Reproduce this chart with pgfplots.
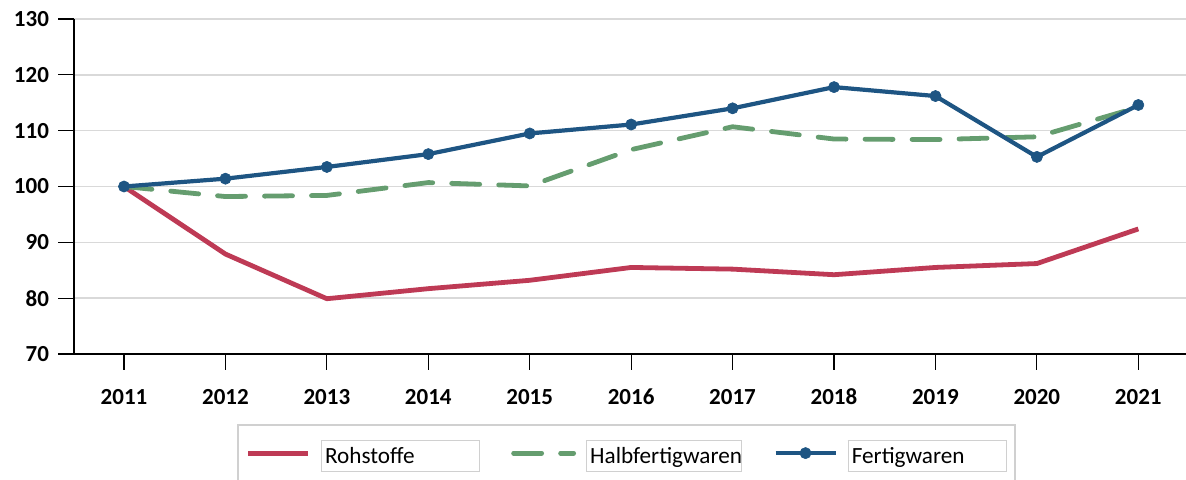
\documentclass[border=0pt]{standalone}
\usepackage{pgfplots}
\pgfplotsset{compat=1.18}
\usepackage{fontspec}
\setmainfont{Carlito}
\definecolor{cRed}{HTML}{BE3A55}
\definecolor{cGreen}{HTML}{659D6F}
\definecolor{cBlue}{HTML}{1E5583}
\definecolor{gridgray}{HTML}{D9D9D9}
\definecolor{legendgray}{HTML}{D0D0D0}
\setlength{\fboxsep}{0pt}
\setlength{\fboxrule}{0.6pt}
\newcommand\lbox[2]{\fcolorbox{legendgray}{white}{\makebox[#1][l]{\rule[-4pt]{0pt}{15pt}\hspace{1.5pt}#2}}}
\begin{document}
\begin{tikzpicture}
\path[use as bounding box] (0,0) rectangle (593pt,240pt);
\begin{axis}[
  at={(37pt,63pt)}, anchor=south west,
  scale only axis, width=556pt, height=167.5pt,
  xmin=2010.507, xmax=2021.47,
  ymin=70, ymax=130,
  xtick={2011,...,2021}, ytick={70,80,...,130},
  axis lines*=left,
  axis line style={black, line width=0.6pt},
  tick style={black, line width=0.6pt},
  tick align=outside, major tick length=8pt,
  ymajorgrids, major grid style={gridgray, line width=0.8pt},
  /pgf/number format/assume math mode=true,
  /pgf/number format/1000 sep={},
  ticklabel style={font=\fontsize{11.5}{13}\selectfont\bfseries},
  xticklabel style={yshift=-6pt},
  yticklabel style={xshift=-1pt},
  legend columns=3,
  legend style={at={(axis description cs:0.1466,-0.209)}, anchor=north west,
    draw=legendgray, line width=1pt, inner xsep=4pt, inner ysep=7.5pt,
    font=\fontsize{11.6}{14}\selectfont,
    nodes={inner sep=0pt},
    column sep=5pt,
    /tikz/every even column/.append style={column sep=15.5pt}},
  legend image code/.code={\draw[mark repeat=2,mark phase=2,#1] plot coordinates {(0pt,0pt) (15pt,0pt) (30pt,0pt)};},
]
\addplot[cRed, line width=2.4pt, line join=round] coordinates {
(2011,100) (2012,87.9) (2013,79.9) (2014,81.7) (2015,83.2) (2016,85.5) (2017,85.2) (2018,84.2) (2019,85.5) (2020,86.2) (2021,92.4)};
\addlegendentry{\lbox{78.5pt}{Rohstoffe}}
\addplot[cGreen, line width=2.4pt, line cap=round, line join=round, dash pattern=on 14pt off 9.5pt] coordinates {
(2011,100) (2012,98.2) (2013,98.4) (2014,100.7) (2015,100.1) (2016,106.6) (2017,110.7) (2018,108.5) (2019,108.4) (2020,108.9) (2021,114.2)};
\addlegendentry{\lbox{77pt}{Halbfertigwaren}}
\addplot[cBlue, line width=2.1pt, line join=round, mark=*, mark size=2.8pt, mark options={solid, fill=cBlue, draw=cBlue, line width=0.3pt}] coordinates {
(2011,100) (2012,101.4) (2013,103.5) (2014,105.8) (2015,109.5) (2016,111.1) (2017,114.0) (2018,117.8) (2019,116.2) (2020,105.3) (2021,114.6)};
\addlegendentry{\lbox{78.5pt}{Fertigwaren}}
\end{axis}
\end{tikzpicture}
\end{document}
